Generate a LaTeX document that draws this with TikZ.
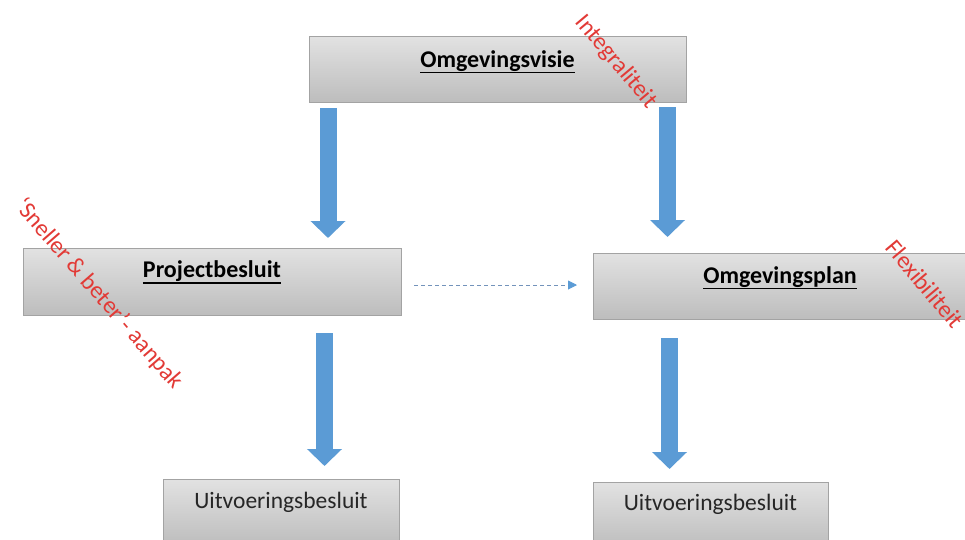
\documentclass[tikz,border=0pt]{standalone}
\usepackage{fontspec}
\setmainfont{Carlito}
\usetikzlibrary{arrows.meta}
\definecolor{flowblue}{HTML}{5B9BD5}
\definecolor{dashblue}{HTML}{7393BB}
\definecolor{boxtop}{HTML}{E2E2E2}
\definecolor{boxbottom}{HTML}{BDBDBD}
\definecolor{boxedge}{HTML}{A3A3A3}
\definecolor{notered}{HTML}{E23A36}
\begin{document}
\begin{tikzpicture}[x=1pt,y=-1pt,
  box/.style={draw=boxedge, line width=0.8pt, top color=boxtop, bottom color=boxbottom,
    inner sep=0pt, outer sep=0pt},
  title/.style={font=\fontsize{24}{28}\selectfont\bfseries, anchor=base, inner sep=0pt, text=black},
  plain/.style={font=\fontsize{23.5}{28}\selectfont, anchor=base, inner sep=0pt, text=black!85},
  uline/.style={line width=1.6pt, black},
  flow/.style={line width=17pt, draw=flowblue, -{Triangle[length=17pt,width=34pt]}},
  weaklink/.style={draw=dashblue, line width=0.9pt, dash pattern=on 4pt off 3pt,
    -{Triangle[length=9pt,width=9pt,color=flowblue,fill=flowblue]}},
  note/.style={font=\fontsize{24}{28}\selectfont, text=notered, inner sep=0pt}]
\useasboundingbox (0,0) rectangle (965,539);
\clip (0,0) rectangle (965,539);

% main boxes
\node[box, minimum width=377pt, minimum height=66pt] (vis) at (497.5,69) {};
\node[box, minimum width=378pt, minimum height=67pt] (pb) at (212,281.5) {};
\node[box, minimum width=374pt, minimum height=66pt] (plan) at (780,286) {};
\node[box, minimum width=236pt, minimum height=66pt] (ub1) at (281,512) {};
\node[box, minimum width=235pt, minimum height=66pt] (ub2) at (710.5,515) {};

% box titles
\node[title] (visT) at ([yshift=-31pt]vis.north) {Omgevingsvisie};
\node[title] (pbT) at ([yshift=-29.5pt]pb.north) {Projectbesluit};
\node[title] (planT) at ([yshift=-30pt]plan.north) {Omgevingsplan};
\node[plain] (ub1T) at ([yshift=-29pt]ub1.north) {Uitvoeringsbesluit};
\node[plain] (ub2T) at ([yshift=-28pt]ub2.north) {Uitvoeringsbesluit};

% underlines of the titles
\foreach \t in {visT,pbT,planT}
  \draw[uline] ([yshift=-1.2pt]\t.south west) -- ([yshift=-1.2pt]\t.south east);

% block arrows
\coordinate (a1s) at (328,108);   \coordinate (a1e) at (328,238);
\coordinate (a2s) at (667.5,107); \coordinate (a2e) at (667.5,237);
\coordinate (a3s) at (324.5,333); \coordinate (a3e) at (324.5,466);
\coordinate (a4s) at (669.5,338); \coordinate (a4e) at (669.5,469);
\draw[flow] (a1s) -- (a1e);
\draw[flow] (a2s) -- (a2e);
\draw[flow] (a3s) -- (a3e);
\draw[flow] (a4s) -- (a4e);

% dashed link between the two plans
\draw[weaklink, shorten <=13pt, shorten >=16pt]
  ([yshift=-3.5pt]pb.east) -- ([yshift=-3.5pt]pb.east -| plan.west);

% red remarks
\node[note, rotate=-50] (integ) at (616,62) {Integraliteit};
\node[note, rotate=-49] (snel) at (99,294) {‘Sneller \& beter’- aanpak};
\node[note, rotate=-50] (flex) at (925,284) {Flexibiliteit};
\end{tikzpicture}
\end{document}
